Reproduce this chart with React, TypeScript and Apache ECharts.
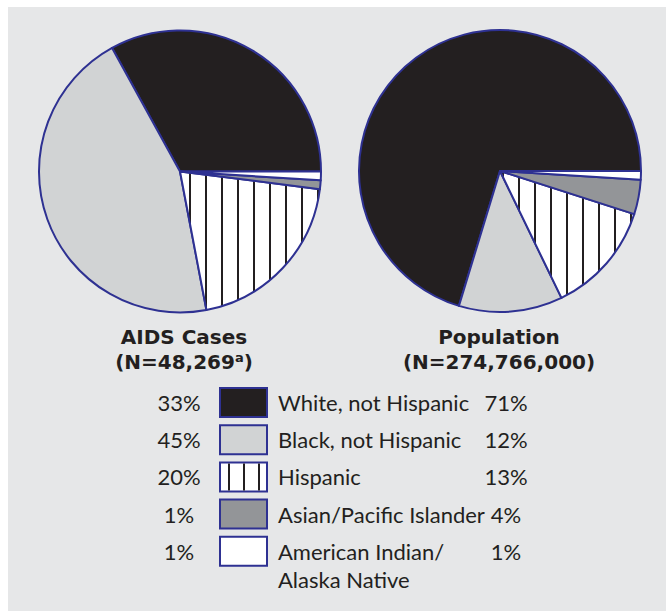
import React, { useEffect, useRef } from "react";
import * as echarts from "echarts";

const categories = [
  "White, not Hispanic",
  "Black, not Hispanic",
  "Hispanic",
  "Asian/Pacific Islander",
  "American Indian/\nAlaska Native",
];
const aidsPercent = [33, 45, 20, 1, 1];
const populationPercent = [71, 12, 13, 4, 1];
const chartTitles = ["AIDS Cases", "Population"];
const chartCounts = ["(N=48,269", "(N=274,766,000"];
const chartCountNotes = ["a", ""];

const INK = "#231f20";
const NAVY = "#2e3192";
const BG = "#e6e7e8";
const solidColors = [INK, "#d1d3d4", null, "#939598", "#ffffff"];

function hatch(offset: number) {
  const c = document.createElement("canvas");
  c.width = 16;
  c.height = 16;
  const ctx = c.getContext("2d")!;
  ctx.fillStyle = "#ffffff";
  ctx.fillRect(0, 0, 16, 16);
  ctx.fillStyle = INK;
  ctx.fillRect(offset, 0, 2, 16);
  return { image: c.toDataURL(), repeat: "repeat", imageWidth: 16, imageHeight: 16 } as any;
}

export default function App() {
  const ref = useRef<HTMLDivElement>(null);
  useEffect(() => {
    if (!ref.current) return;
    const chart = echarts.init(ref.current, null, { renderer: "svg" });
    const makeData = (vals: number[], pattern: any) =>
      vals.map((v, i) => ({
        name: categories[i],
        value: v,
        itemStyle: { color: solidColors[i] ?? pattern },
      }));
    const pieBase = {
      type: "pie",
      radius: 141,
      startAngle: 0,
      clockwise: false,
      silent: true,
      label: { show: false },
      labelLine: { show: false },
      emphasis: { disabled: true },
      itemStyle: { borderColor: NAVY, borderWidth: 2 },
    };
    const rowY = (i: number) => 388 + i * 37.2;
    const graphics: any[] = [
      { type: "rect", z: -10, shape: { x: 8, y: 7, width: 660, height: 610 }, style: { fill: BG } },
    ];
    const titleX = [184, 499];
    chartTitles.forEach((t, k) => {
      graphics.push({
        type: "text",
        x: titleX[k],
        y: 337,
        style: {
          text: t,
          fontFamily: "DejaVu Sans",
          fontWeight: "bold",
          fontSize: 20,
          lineHeight: 22,
          fill: INK,
          align: "center",
          verticalAlign: "middle",
        },
      });
      const note = chartCountNotes[k];
      graphics.push({
        type: "text",
        x: titleX[k],
        y: 362,
        style: {
          text: note ? `{b|${chartCounts[k]}}{s|${note}}{b|)}` : `{b|${chartCounts[k]})}`,
          align: "center",
          verticalAlign: "middle",
          rich: {
            b: { fontFamily: "DejaVu Sans", fontWeight: "bold", fontSize: 20, fill: INK, lineHeight: 22 },
            s: {
              fontFamily: "DejaVu Sans",
              fontWeight: "bold",
              fontSize: 13,
              fill: INK,
              lineHeight: 22,
              verticalAlign: "top",
              padding: [0, 0, 5, 0],
            },
          },
        },
      });
    });
    categories.forEach((c, i) => {
      const y = rowY(i);
      const cy = y + 14.5;
      graphics.push({
        type: "rect",
        shape: { x: 220, y, width: 47, height: 29 },
        style: { fill: solidColors[i] ?? "#ffffff", stroke: NAVY, lineWidth: 2 },
      });
      if (solidColors[i] == null) {
        [229, 244, 259].forEach((lx) =>
          graphics.push({
            type: "line",
            shape: { x1: lx, y1: y + 1, x2: lx, y2: y + 28 },
            style: { stroke: INK, lineWidth: 2 },
          })
        );
      }
      graphics.push({
        type: "text",
        x: 179,
        y: cy,
        style: {
          text: `${aidsPercent[i]}%`,
          fontFamily: "Lato",
          fontSize: 22,
          fill: INK,
          align: "center",
          verticalAlign: "middle",
        },
      });
      graphics.push({
        type: "text",
        x: 278,
        y: cy - 14,
        style: {
          text: c,
          fontFamily: "Lato",
          fontSize: 22,
          lineHeight: 28,
          fill: INK,
          align: "left",
          verticalAlign: "top",
        },
      });
      graphics.push({
        type: "text",
        x: 506,
        y: cy,
        style: {
          text: `${populationPercent[i]}%`,
          fontFamily: "Lato",
          fontSize: 22,
          fill: INK,
          align: "center",
          verticalAlign: "middle",
        },
      });
    });
    chart.setOption({
      animation: false,
      backgroundColor: "#ffffff",
      series: [
        { ...pieBase, center: [180, 171.5], data: makeData(aidsPercent, hatch(13)) },
        { ...pieBase, center: [500, 171], data: makeData(populationPercent, hatch(6)) },
      ],
      graphic: graphics,
    });
    return () => chart.dispose();
  }, []);
  return (
    <div
      ref={ref}
      style={{ position: "fixed", left: 0, top: 0, width: 666, height: 611 }}
    />
  );
}
